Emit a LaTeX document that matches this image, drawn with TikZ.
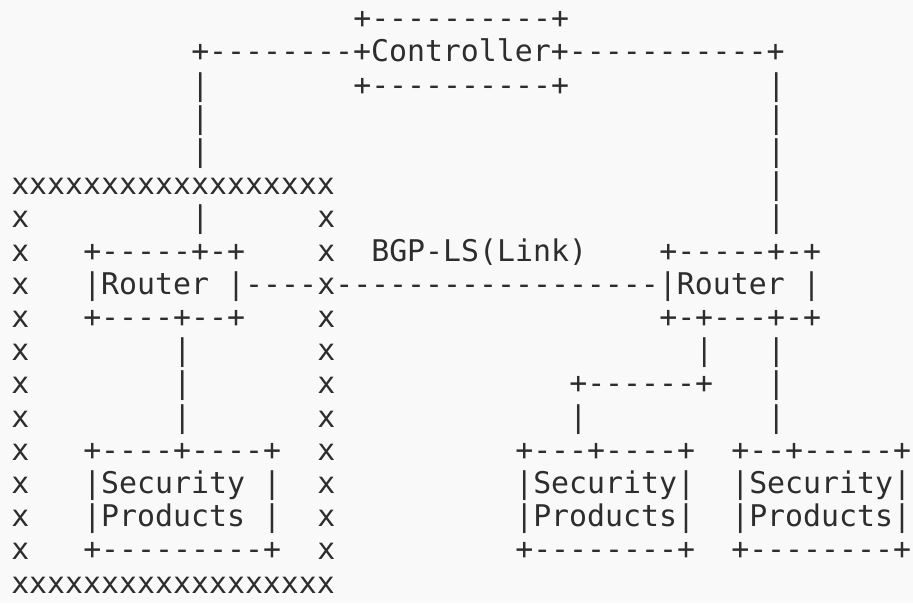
\documentclass[tikz,border=0pt]{standalone}
\usepackage{fontspec}
\setmonofont{DejaVu Sans Mono}
\usepackage{tikz}
\definecolor{asciiink}{RGB}{45,45,45}
\definecolor{paper}{RGB}{249,249,249}

\begin{document}
\begin{tikzpicture}[x=13.5pt, y=-24.9pt,
  ascii/.style={font={\ttfamily\fontsize{22.4pt}{25pt}\selectfont}, text=asciiink, inner sep=0pt, anchor=base west}]
% fix the page size
\path[use as bounding box, fill=paper] (0pt,0pt) rectangle (684.75pt,-452.25pt);

\begin{scope}[shift={(8.25pt,3.4pt)}]
% controller box
\node[ascii] (ctrltop) at (19,1) {+----------+};
\node[ascii] (ctrl) at (10,2) {+--------+Controller+-----------+};
\node[ascii] (ctrlbot) at (19,3) {+----------+};

% lines down from the controller
\foreach \r in {3,4,5,7} \node[ascii] (downl\r) at (10,\r) {|};
\foreach \r in {3,...,7} \node[ascii] (downr\r) at (42,\r) {|};

% border of the x area
\node[ascii] (xtop) at (0,6) {xxxxxxxxxxxxxxxxxx};
\node[ascii] (xbot) at (0,18) {xxxxxxxxxxxxxxxxxx};
\foreach \r in {7,...,17} {
  \node[ascii] (xl\r) at (0,\r) {x};
  \node[ascii] (xr\r) at (17,\r) {x};
}

% left router
\node[ascii] (routerltop) at (4,8) {+-----+-+};
\node[ascii] (routerl) at (4,9) {|Router |----};
\node[ascii] (routerlbot) at (4,10) {+----+--+};
\foreach \r in {11,12,13} \node[ascii] (routerldown\r) at (9,\r) {|};

% link and right router
\node[ascii] (bgpls) at (20,8) {BGP-LS(Link)};
\node[ascii] (routerrtop) at (36,8) {+-----+-+};
\node[ascii] (routerr) at (18,9) {------------------|Router |};
\node[ascii] (routerrbot) at (36,10) {+-+---+-+};
\node[ascii] (routerrdowna) at (38,11) {|};
\node[ascii] (split) at (31,12) {+------+};
\node[ascii] (splitdown) at (31,13) {|};
\foreach \r in {11,12,13} \node[ascii] (routerrdown\r) at (42,\r) {|};

% security products
\node[ascii] (secltop) at (4,14) {+----+----+};
\node[ascii] (secla) at (4,15) {|Security |};
\node[ascii] (seclb) at (4,16) {|Products |};
\node[ascii] (seclbot) at (4,17) {+---------+};

\node[ascii] (secmtop) at (28,14) {+---+----+};
\node[ascii] (secma) at (28,15) {|Security|};
\node[ascii] (secmb) at (28,16) {|Products|};
\node[ascii] (secmbot) at (28,17) {+--------+};

\node[ascii] (secrtop) at (40,14) {+--+-----+};
\node[ascii] (secra) at (40,15) {|Security|};
\node[ascii] (secrb) at (40,16) {|Products|};
\node[ascii] (secrbot) at (40,17) {+--------+};
\end{scope}

\end{tikzpicture}
\end{document}
